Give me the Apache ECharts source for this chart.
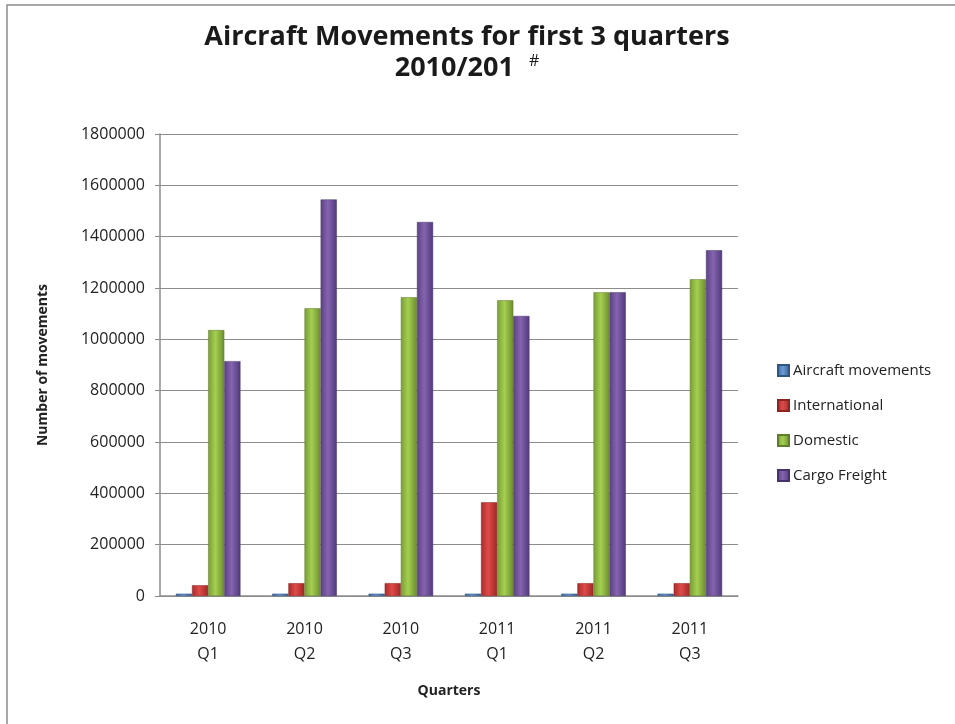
<!DOCTYPE html>
<html>
<head>
<meta charset="utf-8">
<script src="https://cdn.jsdelivr.net/npm/echarts@6/dist/echarts.min.js"></script>
<style>
  html, body { margin: 0; padding: 0; background: #fff; }
  #chart { width: 955px; height: 724px; }
</style>
</head>
<body>
<div id="chart"></div>
<script>
// data
var quarters = ['2010\nQ1', '2010\nQ2', '2010\nQ3', '2011\nQ1', '2011\nQ2', '2011\nQ3'];
var aircraftMovements = [9000, 9000, 9000, 9000, 9000, 9000];
var international = [42000, 50000, 50000, 365000, 50000, 50000];
var domestic = [1036000, 1121000, 1164000, 1152000, 1183000, 1234000];
var cargoFreight = [915000, 1545000, 1457000, 1091000, 1183000, 1347000];
var yTicks = [0, 200000, 400000, 600000, 800000, 1000000, 1200000, 1400000, 1600000, 1800000];

function barFill(edge, mid, edge2) {
    return new echarts.graphic.LinearGradient(0, 0, 1, 0, [
        { offset: 0, color: edge },
        { offset: 0.45, color: mid },
        { offset: 1, color: edge2 }
    ]);
}

var font = '"Open Sans", "Liberation Sans", sans-serif';
var myChart = echarts.init(document.getElementById('chart'));

var option = {
    backgroundColor: '#fff',
    animation: false,
    graphic: [{
        type: 'rect',
        shape: { x: 7, y: 5, width: 960, height: 730 },
        style: { fill: 'none', stroke: '#8c8c8c', lineWidth: 1.5 }
    }],
    title: {
        text: 'Aircraft Movements for first 3 quarters\n2010/201 {s|#}',
        left: 462,
        textAlign: 'center',
        top: 17,
        textStyle: {
            fontFamily: font,
            fontSize: 27,
            fontWeight: 'bold',
            color: '#1a1a1a',
            lineHeight: 31,
            rich: {
                s: { fontSize: 16, fontWeight: 'normal', verticalAlign: 'top', padding: [0, 0, 12, 8], color: '#1a1a1a' }
            }
        }
    },
    legend: {
        orient: 'vertical',
        left: 772,
        top: 358,
        icon: 'rect',
        itemWidth: 11,
        itemHeight: 11,
        itemGap: 20,
        textStyle: { fontFamily: font, fontSize: 15, color: '#222', padding: [0, 0, 0, -1] },
        data: ['Aircraft movements', 'International', 'Domestic', 'Cargo Freight']
    },
    grid: { left: 160, right: 217, top: 134, bottom: 128 },
    xAxis: {
        type: 'category',
        data: quarters,
        name: 'Quarters',
        nameLocation: 'middle',
        nameGap: 88,
        nameTextStyle: { fontFamily: font, fontSize: 14, fontWeight: 'bold', color: '#222' },
        axisLine: { lineStyle: { color: '#8c8c8c', width: 1.5 } },
        axisTick: { show: false },
        axisLabel: { fontFamily: font, fontSize: 16, color: '#222', margin: 21, lineHeight: 25 }
    },
    yAxis: {
        type: 'value',
        min: 0,
        max: yTicks[yTicks.length - 1],
        interval: yTicks[1] - yTicks[0],
        name: 'Number of movements',
        nameLocation: 'middle',
        nameGap: 110,
        nameTextStyle: { fontFamily: font, fontSize: 14, fontWeight: 'bold', color: '#222' },
        axisLine: { show: true, lineStyle: { color: '#8c8c8c', width: 1.5 } },
        axisTick: { show: true, length: 5, lineStyle: { color: '#8c8c8c' } },
        axisLabel: {
            fontFamily: font, fontSize: 16, color: '#222', margin: 15,
            formatter: function (v) { return String(v); }
        },
        splitLine: { lineStyle: { color: '#8c8c8c', width: 1.2 } }
    },
    series: [
        {
            name: 'Aircraft movements',
            type: 'bar',
            data: aircraftMovements,
            barGap: '0%',
            barCategoryGap: '33%',
            itemStyle: { color: barFill('#3a679c', '#6a9ad6', '#355f91'), borderColor: '#2f5683', borderWidth: 0.5 }
        },
        {
            name: 'International',
            type: 'bar',
            data: international,
            itemStyle: { color: barFill('#a52d2b', '#e04a48', '#9c2826'), borderColor: '#8a2422', borderWidth: 0.5 }
        },
        {
            name: 'Domestic',
            type: 'bar',
            data: domestic,
            itemStyle: { color: barFill('#789d36', '#a5cf50', '#6b8c2f'), borderColor: '#5f7d2a', borderWidth: 0.5 }
        },
        {
            name: 'Cargo Freight',
            type: 'bar',
            data: cargoFreight,
            itemStyle: { color: barFill('#5b4282', '#8564b0', '#50397a'), borderColor: '#46326b', borderWidth: 0.5 }
        }
    ]
};

myChart.setOption(option);
</script>
</body>
</html>
